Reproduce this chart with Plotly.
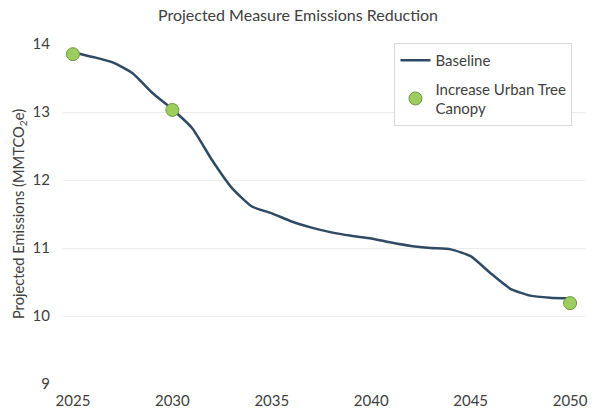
import plotly.graph_objects as go

# Baseline emissions trajectory (MMTCO2e)
years = list(range(2025, 2051))
baseline = [13.88, 13.81, 13.73, 13.57, 13.28, 13.04, 12.76, 12.29, 11.88, 11.61,
            11.51, 11.39, 11.30, 11.23, 11.18, 11.14, 11.08, 11.03, 11.00, 10.98,
            10.88, 10.63, 10.40, 10.30, 10.27, 10.26]

# Measure points: Increase Urban Tree Canopy
measure_years = [2025, 2030, 2050]
measure_values = [13.85, 13.03, 10.19]

x_ticks = [2025, 2030, 2035, 2040, 2045, 2050]
y_ticks = [9, 10, 11, 12, 13, 14]

FONT = "Lato, 'Open Sans', sans-serif"

fig = go.Figure()
fig.add_trace(go.Scatter(
    x=years, y=baseline, mode="lines", name="Baseline",
    line=dict(color="#2f4a63", width=2.5, shape="spline", smoothing=0.5),
    legendgroup="a",
))
fig.add_trace(go.Scatter(
    x=measure_years, y=measure_values, mode="markers",
    name="Increase Urban Tree<br>Canopy",
    marker=dict(color="#9dcc5f", size=13, line=dict(color="#6e9c3c", width=1)),
    cliponaxis=False, legendgroup="b",
))

fig.update_layout(
    width=596, height=410,
    margin=dict(l=63, r=11, t=44, b=26),
    paper_bgcolor="white", plot_bgcolor="white",
    font=dict(family=FONT, color="#595959", size=14),
    title=dict(text="Projected Measure Emissions Reduction",
               x=0.5, xanchor="center", y=0.962, yanchor="middle",
               font=dict(size=16, color="#404040")),
    showlegend=True,
    legend=dict(x=0.635, y=1.003, xanchor="left", yanchor="top",
                bordercolor="#d9d9d9", borderwidth=1, bgcolor="white",
                font=dict(size=15, color="#404040"), tracegroupgap=6,
                itemwidth=30),
)
fig.update_xaxes(range=[2024.5, 2050.75], tickvals=x_ticks, showgrid=False,
                 zeroline=False, showline=False, ticks="", ticklabelstandoff=6,
                 automargin=False, tickfont=dict(size=15, color="#404040"))
fig.update_yaxes(range=[9, 14], tickvals=y_ticks, showgrid=True,
                 gridcolor="#ececec", gridwidth=1, zeroline=False,
                 showline=False, ticks="", ticklabelstandoff=12,
                 automargin=False, tickfont=dict(size=15, color="#404040"),
                 title=dict(text="Projected Emissions (MMTCO<sub>2</sub>e)",
                            font=dict(size=14.7, color="#404040"), standoff=4))

fig.write_html("out.html")
